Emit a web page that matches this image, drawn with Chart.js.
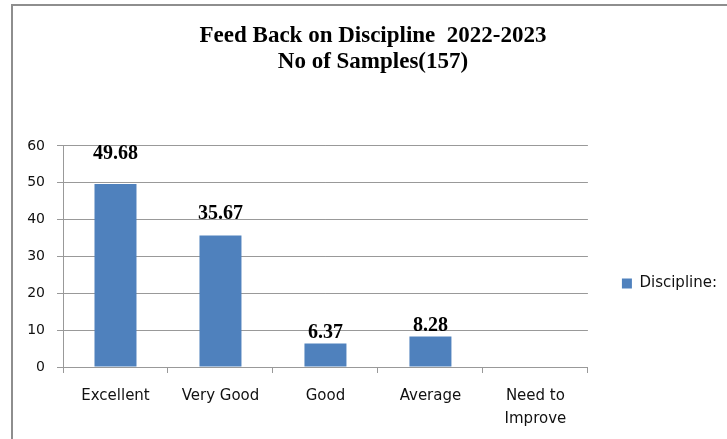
<!DOCTYPE html>
<html><head><meta charset="utf-8">
<script src="https://cdn.jsdelivr.net/npm/chart.js@4"></script>
<style>
html,body{margin:0;padding:0;background:#fff;overflow:hidden;width:727px;height:439px;}
#frame{position:absolute;left:11px;top:4px;width:730px;height:500px;border:2px solid #8e8e8e;box-sizing:border-box;}
#c{position:absolute;left:0;top:0;}
</style></head><body>
<div id="frame"></div>
<canvas id="c" width="727" height="439"></canvas>
<script>
const titleLines = ['Feed Back on Discipline  2022-2023', 'No of Samples(157)'];
const categories = ['Excellent', 'Very Good', 'Good', 'Average', ['Need to', 'Improve']];
const seriesName = 'Discipline:';
const disciplineValues = [49.68, 35.67, 6.37, 8.28, null];
const yMin = 0, yMax = 60, yStep = 10;

// label offsets above bar tops (styling)
const labelGap = [25, 17, 5.5, 5, 0];

const valueLabels = {
  id: 'valueLabels',
  afterDatasetsDraw(chart) {
    const ctx = chart.ctx;
    const meta = chart.getDatasetMeta(0);
    ctx.save();
    ctx.font = 'bold 20px "Liberation Serif"';
    ctx.fillStyle = '#000';
    ctx.textAlign = 'center';
    ctx.textBaseline = 'alphabetic';
    meta.data.forEach((bar, i) => {
      const v = disciplineValues[i];
      if (v == null) return;
      ctx.fillText(v.toFixed(2), bar.x, bar.y - labelGap[i]);
    });
    ctx.restore();
  }
};
const legendShift = {
  id: 'legendShift',
  afterLayout(chart) {
    const l = chart.legend;
    if (l) { l.top += 64; l.bottom += 64; }
  }
};

const axisFont = { family: '"DejaVu Sans"', size: 15, lineHeight: 1.55 };
new Chart(document.getElementById('c'), {
  type: 'bar',
  data: {
    labels: categories,
    datasets: [{
      label: seriesName,
      data: disciplineValues,
      backgroundColor: '#4F81BD',
      borderWidth: 0,
      barPercentage: 0.5,
      categoryPercentage: 0.8
    }]
  },
  options: {
    responsive: false,
    animation: false,
    layout: { padding: { left: 19, right: 0, top: 0, bottom: 0 } },
    plugins: {
      title: {
        display: true,
        text: titleLines,
        color: '#000',
        font: { family: '"Liberation Serif"', size: 23, weight: 'bold', lineHeight: 1.13 },
        padding: { top: 22.7, bottom: 71.3 }
      },
      legend: {
        display: true,
        position: 'right',
        align: 'center',
        labels: {
          boxWidth: 10, boxHeight: 10, padding: 34,
          color: '#111',
          font: { family: '"DejaVu Sans"', size: 15 }
        }
      },
      tooltip: { enabled: false }
    },
    scales: {
      x: {
        afterFit(scale) { scale.height = 72; },
        grid: { display: true, drawOnChartArea: false, offset: true, tickLength: 6, color: '#999' },
        border: { display: true, color: '#999' },
        ticks: { color: '#111', font: axisFont, padding: 11, maxRotation: 0, autoSkip: false }
      },
      y: {
        min: yMin, max: yMax,
        afterFit(scale) { scale.width = 44; },
        grid: { color: '#999', tickLength: 6 },
        border: { display: true, color: '#999' },
        ticks: { stepSize: yStep, color: '#111', font: { family: '"DejaVu Sans"', size: 14 }, padding: 12 }
      }
    }
  },
  plugins: [valueLabels, legendShift]
});
</script>
</body></html>
